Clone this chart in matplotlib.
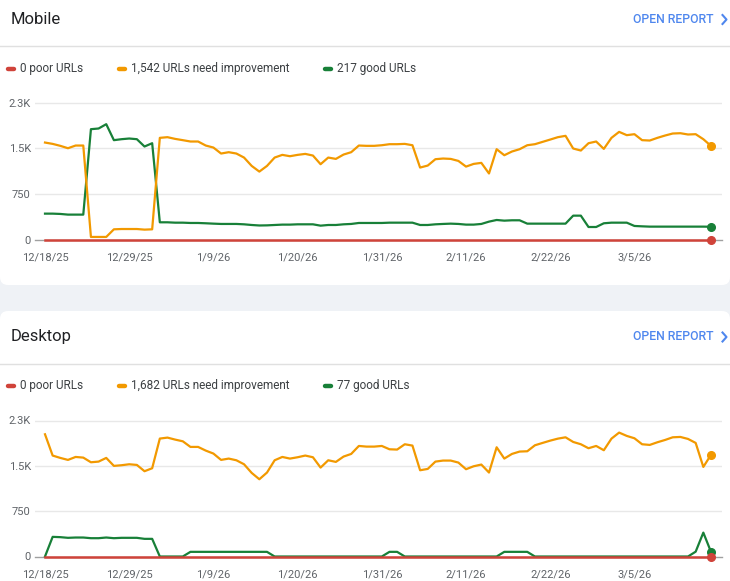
import matplotlib
matplotlib.use('Agg')
import matplotlib.pyplot as plt
from matplotlib.patches import FancyBboxPatch
from matplotlib.lines import Line2D
import pandas as pd
import numpy as np

plt.rcParams['font.family'] = ['Roboto', 'DejaVu Sans']

# ---------------- data ----------------
start_date = '2025-12-18'
n_days = 88
tick_labels = ['12/18/25', '12/29/25', '1/9/26', '1/20/26', '1/31/26', '2/11/26', '2/22/26', '3/5/26']

mobile_poor = [0] * n_days
mobile_need = [1597, 1575, 1543, 1504, 1548, 1548, 50, 50, 50, 175,
               180, 180, 180, 170, 175, 1674, 1685, 1657, 1636, 1614,
               1614, 1548, 1515, 1417, 1439, 1417, 1351, 1214, 1121, 1214,
               1351, 1395, 1373, 1395, 1411, 1384, 1242, 1351, 1329, 1400,
               1439, 1548, 1543, 1543, 1553, 1570, 1570, 1575, 1553, 1187,
               1220, 1324, 1335, 1329, 1296, 1203, 1247, 1264, 1090, 1488,
               1389, 1450, 1488, 1553, 1570, 1608, 1646, 1685, 1707, 1499,
               1466, 1586, 1614, 1493, 1674, 1772, 1718, 1734, 1636, 1630,
               1674, 1712, 1745, 1750, 1729, 1734, 1652, 1542]
mobile_good = [432, 432, 427, 416, 416, 416, 1816, 1827, 1898, 1636,
               1652, 1663, 1652, 1532, 1586, 290, 290, 284, 284, 279,
               279, 274, 268, 263, 263, 263, 257, 246, 238, 240,
               246, 252, 252, 257, 257, 257, 235, 246, 246, 257,
               263, 279, 279, 279, 279, 284, 284, 284, 284, 246,
               246, 257, 263, 268, 263, 252, 252, 263, 301, 328,
               317, 323, 323, 268, 268, 268, 268, 268, 268, 399,
               399, 213, 213, 274, 284, 284, 284, 230, 224, 219,
               219, 219, 219, 219, 219, 219, 219, 217]

desktop_poor = [0] * n_days
desktop_need = [2022, 1670, 1631, 1598, 1647, 1636, 1559, 1570, 1631, 1499,
                1510, 1526, 1515, 1411, 1460, 1951, 1967, 1934, 1906, 1813,
                1813, 1752, 1703, 1598, 1620, 1592, 1526, 1383, 1278, 1389,
                1592, 1647, 1620, 1642, 1670, 1642, 1471, 1592, 1565, 1653,
                1697, 1829, 1818, 1818, 1829, 1774, 1769, 1857, 1835, 1427,
                1449, 1570, 1587, 1587, 1554, 1444, 1493, 1521, 1389, 1807,
                1620, 1697, 1736, 1741, 1840, 1879, 1917, 1950, 1972, 1895,
                1857, 1791, 1829, 1758, 1950, 2050, 1995, 1956, 1857, 1846,
                1890, 1928, 1972, 1978, 1945, 1879, 1482, 1682]
desktop_good = [0, 325, 320, 309, 314, 314, 303, 303, 314, 303,
                309, 309, 309, 292, 292, 0, 0, 0, 0, 77,
                77, 77, 77, 77, 77, 77, 77, 77, 77, 77,
                0, 0, 0, 0, 0, 0, 0, 0, 0, 0,
                0, 0, 0, 0, 0, 77, 77, 0, 0, 0,
                0, 0, 0, 0, 0, 0, 0, 0, 0, 0,
                77, 77, 77, 77, 0, 0, 0, 0, 0, 0,
                0, 0, 0, 0, 0, 0, 0, 0, 0, 0,
                0, 0, 0, 0, 0, 80, 395, 77]

y_ticks = [0, 750, 1500, 2250]
y_tick_labels = ['0', '750', '1.5K', '2.3K']

panels = [
    dict(title='Mobile', poor=mobile_poor, need=mobile_need, good=mobile_good,
         legend=['0 poor URLs', '1,542 URLs need improvement', '217 good URLs']),
    dict(title='Desktop', poor=desktop_poor, need=desktop_need, good=desktop_good,
         legend=['0 poor URLs', '1,682 URLs need improvement', '77 good URLs']),
]

# ---------------- style ----------------
RED = '#d0433a'
ORANGE = '#f29900'
GREEN = '#188038'
BLUE = '#4f87ee'

W, H = 730, 581
fig = plt.figure(figsize=(W / 100, H / 100), dpi=100)
fig.patch.set_facecolor('#eff2f6')


def fx(x):
    return x / W


def fy(y):
    return 1 - y / H


# white cards
card1 = FancyBboxPatch((0, (H - 285) / 100), W / 100, 4.0,
                       boxstyle='round,pad=0,rounding_size=0.08',
                       transform=fig.dpi_scale_trans, facecolor='white',
                       edgecolor='none', zorder=-5)
card2 = FancyBboxPatch((0, -0.5), W / 100, (H - 311) / 100 + 0.5,
                       boxstyle='round,pad=0,rounding_size=0.08',
                       transform=fig.dpi_scale_trans, facecolor='white',
                       edgecolor='none', zorder=-5)
fig.patches.extend([card1, card2])

dates = pd.date_range(start_date, periods=n_days)
date_strs = [f'{d.month}/{d.day}/{d.year % 100}' for d in dates]
x = np.arange(n_days)
tick_pos = [date_strs.index(t) for t in tick_labels]

day_px = 7.655
first_px = 45.0

for i, p in enumerate(panels):
    off = 0 if i == 0 else 317.5
    # header
    fig.text(fx(11), fy(19.5 + off), p['title'], fontsize=12, color='#202124',
             va='center', ha='left')
    fig.text(fx(713.5), fy(19.5 + off), 'OPEN REPORT', fontsize=8.8, color=BLUE,
             va='center', ha='right', fontweight='medium')
    fig.add_artist(Line2D([fx(722.5), fx(726.5), fx(722.5)],
                          [fy(15 + off), fy(19.5 + off), fy(24 + off)],
                          color=BLUE, lw=1.5, transform=fig.transFigure))
    fig.add_artist(Line2D([0, 1], [fy(46 + off), fy(46 + off)], color='#e0e0e0',
                          lw=1, transform=fig.transFigure))
    # legend
    lx = [6, 117, 323]
    cols = [RED, ORANGE, GREEN]
    ly = 68.5 + off
    for j in range(3):
        fig.add_artist(Line2D([fx(lx[j] + 1.5), fx(lx[j] + 7.5)], [fy(ly), fy(ly)],
                              color=cols[j], lw=3.2, solid_capstyle='round',
                              transform=fig.transFigure))
        fig.text(fx(lx[j] + 14), fy(ly), p['legend'][j], fontsize=8.5,
                 color='#3c4043', va='center', ha='left')

    # axes
    zero_y = 240 + off if i == 0 else 556.5
    top_val_y = 102.7 + off if i == 0 else 420.5
    ppu = (zero_y - top_val_y) / 2250.0
    ax_top = zero_y - 145
    ax = fig.add_axes([fx(35), fy(zero_y), fx(722) - fx(35), (zero_y - ax_top) / H])
    ax.set_facecolor('none')
    ax.set_ylim(0, (zero_y - ax_top) / ppu)
    ax.set_xlim((35 - first_px) / day_px, (722 - first_px) / day_px)
    for s in ax.spines.values():
        s.set_visible(False)
    ax.set_yticks(y_ticks)
    ax.set_yticklabels(y_tick_labels)
    ax.set_xticks(tick_pos)
    ax.set_xticklabels(tick_labels)
    ax.tick_params(axis='both', length=0, labelsize=8, labelcolor='#5f6368')
    ax.tick_params(axis='y', pad=3)
    ax.tick_params(axis='x', pad=9)
    for yt in y_ticks[1:]:
        ax.axhline(yt, color='#e8e8e8', lw=1, zorder=1)
    ax.axhline(0, color='#a0a0a0', lw=1, zorder=1, clip_on=False)

    ax.plot(x, p['good'], color=GREEN, lw=1.6, zorder=3, clip_on=False)
    ax.plot(x, p['need'], color=ORANGE, lw=1.6, zorder=4, clip_on=False)
    ax.plot(x, p['poor'], color=RED, lw=1.8, zorder=5, clip_on=False)
    for series, c, z in [(p['good'], GREEN, 6), (p['need'], ORANGE, 7), (p['poor'], RED, 8)]:
        ax.plot([x[-1]], [series[-1]], 'o', ms=5.5, color=c, zorder=z, clip_on=False)

fig.savefig('out.png', dpi=100, facecolor=fig.get_facecolor())
